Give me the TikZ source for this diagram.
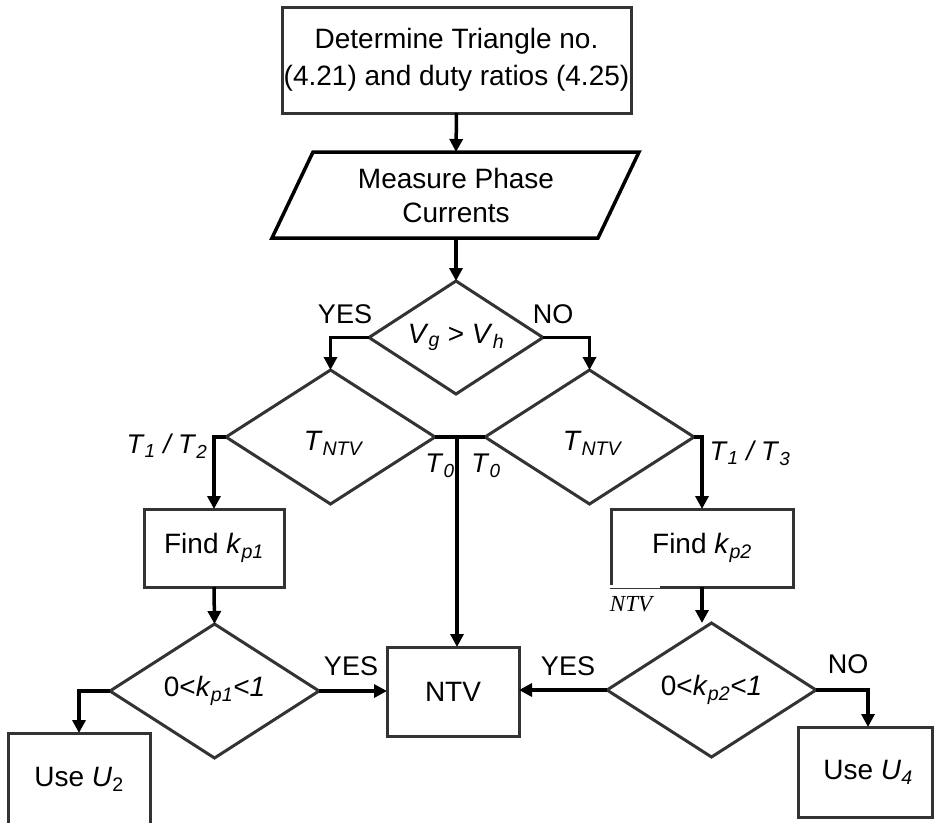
\documentclass[tikz,border=0pt]{standalone}
\usepackage{fontspec}
\setmainfont{Liberation Sans}
\newfontfamily\serifface{Liberation Serif}
\usetikzlibrary{shapes.geometric,arrows.meta,calc}
\definecolor{shapegray}{HTML}{333333}
% italic subscript
\newcommand\sbs[1]{\textsubscript{\itshape #1}}

\begin{document}
\begin{tikzpicture}[x=1pt,y=-1pt,
  shape line/.style={draw=shapegray,line width=3pt},
  procbox/.style={shape line,rectangle,inner sep=0pt,outer sep=0pt,align=center,
    font=\fontsize{28}{37}\selectfont},
  decision/.style={shape line,diamond,shape aspect=1.5,inner sep=0pt,outer sep=0pt,
    font=\fontsize{28}{34}\selectfont},
  inner text/.style={font=\fontsize{28}{34}\selectfont,inner sep=0pt},
  link/.style={draw=black,line width=3.5pt},
  flow/.style={link,-{Triangle[width=13pt,length=13pt]}},
  lbl/.style={font=\fontsize{27}{32}\selectfont,inner sep=0pt}]

\useasboundingbox (0,0) rectangle (936,822);
\clip (0,0) rectangle (936,822);

% ---- process boxes -------------------------------------------------
\node[procbox,minimum width=349,minimum height=106] (top) at (456.5,60)
  {Determine Triangle no.\\(4.21) and duty ratios (4.25)};

\node[inner text,outer sep=0pt,minimum width=326,minimum height=86,align=center]
  (meas) at (456,195) {Measure Phase\\Currents};
\draw[draw=black,line width=3.5pt] (313,152) -- (639,152) -- (598,238) -- (272,238) -- cycle;

\node[procbox,minimum width=140,minimum height=78] (fk1) at (214,548)
  {Find \textit{k}\sbs{p1}};
\node[procbox,minimum width=182,minimum height=78] (fk2) at (702,548)
  {Find \textit{k}\sbs{p2}};
\node[procbox,minimum width=132,minimum height=89] (ntv) at (453,691.5) {NTV};
\node[procbox,minimum width=142,minimum height=92] (u2) at (79,779)
  {Use \textit{U}\textsubscript{2}};
\node[procbox,minimum width=134,minimum height=90] (u4) at (865,772)
  {\hspace*{6pt}Use \textit{U}\sbs{4}};

% ---- decisions -----------------------------------------------------
\node[decision,minimum width=174,minimum height=113] (d1) at (456,337.5)
  {\textit{V}\sbs{g} > \textit{V}\sbs{h}};
\node[decision,minimum width=209,minimum height=134] (d2) at (330.5,437) {};
\node[decision,minimum width=209,minimum height=134] (d3) at (589.5,437) {};
\node[decision,minimum width=209,minimum height=134] (d5) at (214.5,691)
  {0<\textit{k}\sbs{p1}\textit{<1}};
\node[decision,minimum width=209,minimum height=134] (d4) at (711.5,690)
  {0<\textit{k}\sbs{p2}\textit{<1}};
\node[inner text] (d2txt) at (333,443) {\textit{T}\sbs{NTV}};
\node[inner text] (d3txt) at (592,443) {\textit{T}\sbs{NTV}};

% stray text box over the lower edge of the Find k_p2 box
\fill[white] (609.5,585) rectangle (660,590);
\draw[draw=shapegray,line width=1pt] (609.5,588) -- (660,588);
\node[inner sep=0pt,font=\serifface\itshape\fontsize{23}{26}\selectfont] (stray) at (631,604) {NTV};

% ---- connectors ----------------------------------------------------
\draw[flow] (top.south) -- (meas.north);
\draw[flow] (meas.south) -- (d1.north);
\draw[flow] (d1.west) -| (d2.north);
\draw[flow] (d1.east) -| (d3.north);
\draw[flow] (d2.west) -| (fk1.north);
\draw[flow] (d3.east) -| (fk2.north);

\coordinate (tj) at (457,437);
\draw[link] (d2.east) -- (d3.west);
\draw[flow] (tj) -- (tj |- ntv.north);

\draw[flow] (fk1.south) -- (d5.north);
\draw[flow] (fk2.south) -- (fk2.south |- d4.north);
\draw[flow] (d5.east) -- (d5.east -| ntv.west);
\draw[flow] (d4.west) -- (d4.west -| ntv.east);
\draw[flow] (d5.west) -| (u2.north);
\coordinate (u4in) at (868,727);
\draw[flow] (d4.east) -| (u4in);

% ---- branch labels -------------------------------------------------
\node[lbl] (yes1) at (345,314) {YES};
\node[lbl] (no1) at (553,314) {NO};
\node[lbl] (t12) at (167,446) {\textit{T}\sbs{1}\textit{ / T}\sbs{2}};
\node[lbl] (t0a) at (440,466) {\textit{T}\sbs{0}};
\node[lbl] (t0b) at (486,466) {\textit{T}\sbs{0}};
\node[lbl] (t13) at (750,453) {\textit{T}\sbs{1}\textit{ / T}\sbs{3}};
\node[lbl] (yes2) at (351,666) {YES};
\node[lbl] (yes3) at (568,666) {YES};
\node[lbl] (no2) at (848,664) {NO};
\end{tikzpicture}
\end{document}
